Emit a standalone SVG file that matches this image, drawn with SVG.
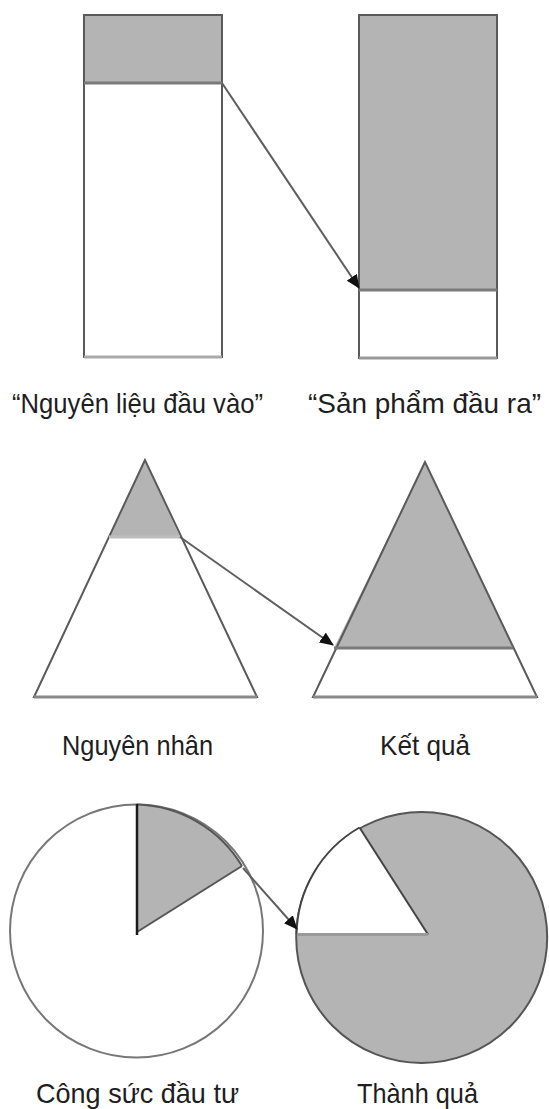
<svg xmlns="http://www.w3.org/2000/svg" width="549" height="1109" viewBox="0 0 549 1109">
<style>
.lbl{font-family:"Liberation Sans","Noto Sans",sans-serif;font-size:28px;fill:#1e1e1e}
.shade{fill:#b4b4b4}
.edge{fill:none;stroke:#5a5a5a;stroke-width:2}
.div{stroke:#7a7a7a;stroke-width:3}
.conn{stroke:#5e5e5e;stroke-width:2;fill:none}
</style>
<defs>
<marker id="ah" markerUnits="userSpaceOnUse" markerWidth="14" markerHeight="12" refX="13" refY="6" orient="auto">
<path d="M0,0 L14,6 L0,12 z" fill="#111"/>
</marker>
</defs>
<rect width="549" height="1109" fill="#fff"/>

<g id="input-rect">
<rect x="84" y="15" width="138" height="342" fill="#fff"/>
<rect class="shade" x="84" y="15" width="138" height="68"/>
<rect class="edge" x="84" y="15" width="138" height="342"/>
<line class="div" x1="84" y1="83" x2="222" y2="83"/>
<line x1="84" y1="357" x2="222" y2="357" stroke="#aaa" stroke-width="3"/>
</g>

<g id="output-rect">
<rect x="359" y="15" width="138" height="343" fill="#fff"/>
<rect class="shade" x="359" y="15" width="138" height="275"/>
<rect class="edge" x="359" y="15" width="138" height="343"/>
<line class="div" x1="359" y1="290" x2="497" y2="290"/>
<line x1="359" y1="358" x2="497" y2="358" stroke="#999" stroke-width="3"/>
</g>

<g id="cause-triangle">
<polygon points="145,460 34,697 257,697" fill="#fff"/>
<polygon class="shade" points="145,460 109,537 180,537"/>
<polygon class="edge" points="145,460 34,697 257,697"/>
<line x1="109" y1="537" x2="180" y2="537" stroke="#bdbdbd" stroke-width="3"/>
<line x1="34" y1="697" x2="257" y2="697" stroke="#888" stroke-width="3"/>
</g>

<g id="effect-triangle">
<polygon points="425,462 313,697 537,697" fill="#fff"/>
<polygon class="shade" points="425,462 334,648 513,648"/>
<polygon class="edge" points="425,462 313,697 537,697"/>
<line class="div" x1="334" y1="648" x2="513" y2="648"/>
<line x1="313" y1="697" x2="537" y2="697" stroke="#888" stroke-width="3"/>
</g>

<g id="effort-circle">
<circle cx="136.5" cy="931" r="126.5" fill="#fff" stroke="#777" stroke-width="2"/>
<path class="shade" d="M137,932 L137,804.5 A126.5,126.5 0 0 1 242,866 Z"/>
<line x1="242" y1="866" x2="137" y2="932" stroke="#555" stroke-width="2"/>
<path d="M137,804.5 A126.5,126.5 0 0 1 242,866" fill="none" stroke="#555" stroke-width="2"/>
<line x1="137" y1="804" x2="137" y2="935" stroke="#1a1a1a" stroke-width="2.5"/>
</g>

<g id="result-circle">
<circle class="shade" cx="421.7" cy="937.5" r="125.5" stroke="#555" stroke-width="2"/>
<path d="M428,934.5 L296.5,934.5 A125.5,125.5 0 0 1 359.5,827.5 Z" fill="#fff"/>
<path d="M296.5,934.5 A125.5,125.5 0 0 1 359.5,827.5" fill="none" stroke="#444" stroke-width="2"/>
<line x1="359.5" y1="827.5" x2="428" y2="934.5" stroke="#444" stroke-width="2"/>
<line x1="297" y1="934.5" x2="428" y2="934.5" stroke="#9a9a9a" stroke-width="3"/>
</g>

<g id="connectors">
<line class="conn" x1="222" y1="83" x2="359" y2="288" marker-end="url(#ah)"/>
<line class="conn" x1="180" y1="537" x2="333" y2="645" marker-end="url(#ah)"/>
<line class="conn" x1="243" y1="868" x2="297" y2="929" marker-end="url(#ah)"/>
</g>

<g id="labels">
<text class="lbl" x="12" y="413" textLength="251" lengthAdjust="spacingAndGlyphs">“Nguyên liệu đầu vào”</text>
<text class="lbl" x="308" y="413" textLength="233" lengthAdjust="spacingAndGlyphs">“Sản phẩm đầu ra”</text>
<text class="lbl" x="62" y="755" textLength="151" lengthAdjust="spacingAndGlyphs">Nguyên nhân</text>
<text class="lbl" x="380" y="755" textLength="90" lengthAdjust="spacingAndGlyphs">Kết quả</text>
<text class="lbl" x="36" y="1103" textLength="203" lengthAdjust="spacingAndGlyphs">Công sức đầu tư</text>
<text class="lbl" x="357" y="1103" textLength="121" lengthAdjust="spacingAndGlyphs">Thành quả</text>
</g>
</svg>
